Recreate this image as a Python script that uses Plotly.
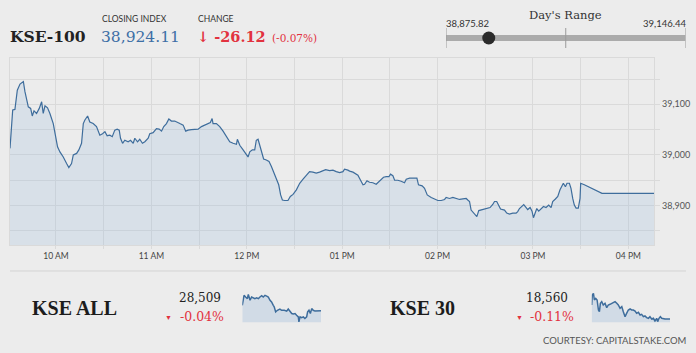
import plotly.graph_objects as go
import pandas as pd

# ---------------- data ----------------
kse100_minutes = [
    1.1, 2.8, 4.2, 5.7, 7.4, 9.5, 10.5, 12.6, 14.1, 15.1,
    16.2, 17.8, 19.5, 21.0, 22.0, 23.1, 24.7, 26.2, 28.3, 29.8,
    31.0, 32.5, 34.6, 36.7, 38.1, 39.8, 40.9, 43.0, 44.4, 46.1,
    47.2, 48.2, 49.9, 51.3, 53.4, 55.5, 57.6, 59.3, 60.8, 62.2,
    63.9, 65.4, 67.0, 68.5, 69.8, 70.6, 71.9, 73.3, 75.4, 76.9,
    78.6, 79.6, 81.3, 82.7, 84.4, 85.9, 88.0, 89.0, 91.1, 93.2,
    94.9, 96.4, 97.8, 99.5, 101.0, 102.6, 104.7, 107.9, 110.0, 111.6,
    113.1, 115.2, 117.3, 119.4, 121.5, 123.6, 125.7, 127.1, 128.2, 128.8,
    130.9, 133.0, 135.1, 137.2, 139.3, 141.4, 143.5, 144.1, 145.6, 147.7,
    149.3, 150.8, 151.9, 153.5, 155.0, 156.0, 157.1, 158.1, 159.2, 160.6,
    162.3, 164.0, 165.5, 166.9, 168.6, 170.1, 171.3, 172.4, 173.8, 175.9,
    177.4, 179.1, 181.2, 183.3, 185.4, 187.4, 189.5, 191.6, 193.7, 195.8,
    197.9, 199.6, 202.1, 204.2, 206.3, 208.4, 210.5, 211.5, 213.6,
    214.7, 216.8, 218.9, 219.9, 221.4, 223.1, 224.1, 225.6, 227.2, 229.3,
    231.4, 233.1, 234.6, 236.0, 237.7, 239.4, 240.4, 241.9, 243.0, 245.0,
    247.1, 249.2, 250.3, 252.4, 254.9, 257.0, 258.0, 260.3, 261.8, 263.5,
    266.0, 268.1, 270.2, 272.3, 274.4, 275.4, 277.5, 279.6, 281.7, 283.8,
    285.9, 288.0, 289.0, 290.1, 291.1, 293.2, 294.7, 295.9, 297.4, 299.5,
    301.6, 303.0, 304.7, 305.8, 307.2, 308.5, 309.6, 312.1, 313.5, 315.2,
    317.3, 319.4, 320.4, 321.5, 323.2, 324.2, 325.2, 326.7, 328.2, 329.4,
    330.3, 331.5, 332.4, 333.6, 335.1, 336.6, 338.2, 339.9, 341.4, 342.4,
    344.1, 345.6, 347.0, 348.3, 349.1, 350.4, 351.4, 352.9, 353.9, 355.0,
    356.0, 357.1, 358.5, 359.6, 360.0, 362.3, 367.6, 373.4, 406.3,
]
kse100_values = [
    39013, 39089, 39090, 39128, 39140, 39145, 39125, 39095, 39092, 39077,
    39087, 39082, 39092, 39105, 39082, 39097, 39093, 39082, 39062, 39039,
    39016, 39006, 38996, 38983, 38975, 38983, 39000, 39003, 39010, 39023,
    39062, 39069, 39077, 39065, 39062, 39056, 39039, 39042, 39046, 39038,
    39039, 39036, 39049, 39051, 39049, 39033, 39023, 39029, 39026, 39029,
    39023, 39033, 39026, 39031, 39023, 39026, 39033, 39042, 39044, 39052,
    39051, 39047, 39056, 39062, 39071, 39067, 39067, 39062, 39059, 39047,
    39049, 39050, 39051, 39051, 39056, 39059, 39062, 39064, 39072, 39062,
    39062, 39056, 39047, 39036, 39026, 39023, 39021, 39031, 39019, 39010,
    39003, 38996, 39006, 39010, 39010, 39029, 39031, 39019, 39003, 38992,
    38990, 38987, 38977, 38967, 38954, 38941, 38921, 38911, 38910, 38910,
    38918, 38922, 38931, 38944, 38952, 38960, 38967, 38966, 38964, 38966,
    38968, 38971, 38969, 38970, 38967, 38965, 38967, 38972, 38970,
    38968, 38966, 38963, 38960, 38951, 38941, 38942, 38949, 38946, 38945,
    38942, 38947, 38952, 38956, 38957, 38957, 38962, 38959, 38950, 38950,
    38948, 38945, 38952, 38954, 38954, 38954, 38941, 38939, 38934, 38921,
    38916, 38913, 38910, 38910, 38912, 38916, 38914, 38916, 38914, 38912,
    38913, 38914, 38911, 38908, 38891, 38883, 38878, 38890, 38891, 38893,
    38894, 38896, 38902, 38908, 38908, 38900, 38893, 38891, 38885, 38883,
    38885, 38885, 38888, 38894, 38900, 38902, 38898, 38892, 38896, 38889,
    38876, 38885, 38894, 38889, 38894, 38898, 38896, 38901, 38896, 38908,
    38913, 38918, 38931, 38941, 38944, 38937, 38944, 38944, 38934, 38914,
    38901, 38895, 38895, 38914, 38944, 38941, 38933, 38924, 38924,
]

kseall_minutes = [0, 9, 17, 26, 31, 40, 48, 57, 65, 74, 83, 91, 100, 108, 117, 126,
                  134, 143, 151, 160, 165, 172, 181, 194, 203, 217, 229, 237, 246,
                  255, 263, 272, 280, 289, 292, 298, 306, 315, 323, 332, 337, 344,
                  351, 358, 366, 375, 406]
kseall_values = [28529, 28553, 28549, 28545, 28555, 28541, 28549, 28547, 28545, 28547,
                 28545, 28549, 28552, 28549, 28553, 28551, 28549, 28541, 28537, 28529,
                 28525, 28513, 28517, 28520, 28517, 28517, 28515, 28520, 28515, 28509,
                 28508, 28509, 28505, 28501, 28489, 28501, 28499, 28501, 28497, 28501,
                 28513, 28517, 28509, 28521, 28517, 28515, 28516]

kse30_minutes = [0, 3, 9, 14, 21, 28, 35, 40, 45, 52, 60, 69, 78, 86, 95, 104, 112,
                 121, 130, 138, 147, 156, 164, 173, 181, 190, 199, 207, 216, 225,
                 233, 242, 251, 259, 268, 276, 285, 294, 302, 311, 320, 328, 337,
                 342, 349, 356, 363, 380, 406]
kse30_values = [18582.5, 18597.5, 18600, 18590, 18592.5, 18590, 18575, 18572.5, 18585,
                18587.5, 18582.5, 18585, 18578.5, 18582.5, 18583.5, 18585, 18586.5,
                18587.5, 18585, 18582.5, 18577.5, 18580, 18572.5, 18565, 18570, 18575,
                18576.5, 18575, 18575, 18573.5, 18570, 18571.5, 18567.5, 18568.5, 18565,
                18566, 18563.5, 18562.5, 18565, 18561.5, 18562.5, 18558.5, 18562.5,
                18557.5, 18562.5, 18565, 18562.5, 18561.5, 18561.5]

closing_index = 38924.11
change_points = -26.12
change_pct = -0.07
day_low = 38875.82
day_high = 39146.44
kseall_last, kseall_pct = 28509, -0.04
kse30_last, kse30_pct = 18560, -0.11

# ---------------- helpers ----------------
W, H = 696, 353
def fx(x): return x / W
def fy(y): return 1 - y / H

base = pd.Timestamp("2019-06-14 09:30")
def to_dt(mins): return [base + pd.Timedelta(minutes=m) for m in mins]

LINE = "#3e6d9c"
FILL = "rgba(160,188,222,0.26)"
GRID = "#dadada"
RED = "#e2323f"
SERIF = "DejaVu Serif"
TSERIF = "Liberation Serif"
SANS = "Lato"

fig = go.Figure()

fig.add_trace(go.Scatter(x=to_dt(kse100_minutes), y=kse100_values, mode="lines",
                         line=dict(color=LINE, width=1.2), fill="tozeroy",
                         fillcolor=FILL, xaxis="x", yaxis="y", hoverinfo="skip"))
fig.add_trace(go.Scatter(x=kseall_minutes, y=kseall_values, mode="lines",
                         line=dict(color=LINE, width=1.5), fill="tozeroy",
                         fillcolor="rgba(160,188,222,0.35)", xaxis="x2", yaxis="y2"))
fig.add_trace(go.Scatter(x=kse30_minutes, y=kse30_values, mode="lines",
                         line=dict(color=LINE, width=1.5), fill="tozeroy",
                         fillcolor="rgba(160,188,222,0.35)", xaxis="x3", yaxis="y3"))
# day's range bar
fig.add_trace(go.Scatter(x=[day_low, day_high], y=[0.5, 0.5], mode="lines",
                         line=dict(color="#ababab", width=6), xaxis="x4", yaxis="y4"))
fig.add_trace(go.Scatter(x=[day_low, (day_low + day_high) / 2, day_high], y=[0.5, 0.5, 0.5],
                         mode="markers", marker=dict(symbol="line-ns", size=15,
                         line=dict(color="#9a9a9a", width=1)), xaxis="x4", yaxis="y4"))
fig.add_trace(go.Scatter(x=[closing_index], y=[0.5], mode="markers",
                         marker=dict(color="#2b2b2b", size=13), xaxis="x4", yaxis="y4"))

tfont = dict(family=SANS, size=8.5, color="#444")
fig.update_layout(
    width=W, height=H, margin=dict(l=0, r=0, t=0, b=0),
    paper_bgcolor="#ececec", plot_bgcolor="#ececec", showlegend=False,
    xaxis=dict(type="date", domain=[fx(10), fx(654.3)],
               range=[base + pd.Timedelta(minutes=1.1), base + pd.Timedelta(minutes=406.3)],
               tick0="2019-06-14 10:00", dtick=3600000, tickformat="%I %p",
               showgrid=True, gridcolor=GRID, gridwidth=1,
               ticks="outside", ticklen=3, tickcolor=GRID, tickfont=tfont,
               minor=dict(dtick=1800000, showgrid=True, gridcolor=GRID,
                          ticks="outside", ticklen=3, tickcolor=GRID),
               showline=True, mirror=True, linecolor=GRID, zeroline=False,
               anchor="y", fixedrange=True),
    yaxis=dict(domain=[fy(245), fy(58.3)], range=[38822, 39191], side="right",
               dtick=100, tick0=0, tickformat=",d", showgrid=True, gridcolor=GRID,
               ticks="outside", ticklen=5, tickcolor=GRID,
               tickfont=dict(family=SANS, size=9, color="#555"),
               minor=dict(dtick=50, showgrid=True, gridcolor=GRID, ticks="outside",
                          ticklen=5, tickcolor=GRID),
               showline=True, mirror=True, linecolor=GRID, zeroline=False,
               anchor="x"),
    xaxis2=dict(domain=[fx(242.3), fx(321)], range=[0, 406], visible=False, anchor="y2"),
    yaxis2=dict(domain=[fy(322.3), fy(292)], range=[28488, 28561], visible=False, anchor="x2"),
    xaxis3=dict(domain=[fx(591.7), fx(670)], range=[0, 406], visible=False, anchor="y3"),
    yaxis3=dict(domain=[fy(322.3), fy(292)], range=[18556.5, 18602], visible=False, anchor="x3"),
    xaxis4=dict(domain=[fx(446), fx(685.5)], range=[day_low, day_high], visible=False, anchor="y4"),
    yaxis4=dict(domain=[fy(48), fy(28)], range=[0, 1], visible=False, anchor="x4"),
)

def ann(text, x, y, size, color="#222", family=SERIF, xanchor="left"):
    fig.add_annotation(text=text, x=fx(x), y=fy(y), xref="paper", yref="paper",
                       xanchor=xanchor, yanchor="middle", showarrow=False,
                       font=dict(family=family, size=size, color=color), borderpad=0)

ann("<b>KSE-100</b>", 9, 37, 15.5, "#222")
ann("CLOSING INDEX", 101, 19, 8.5, "#333", SANS)
ann(f"{closing_index:,.2f}", 100, 37, 15.5, "#3d6fa6")
ann("CHANGE", 197, 19, 8.5, "#333", SANS)
ann(f"<b>↓ {change_points:.2f}</b>", 196, 37, 14.5, RED)
ann(f"({change_pct:.2f}%)", 271, 38, 10.5, RED)

ann("Day's Range", 565.5, 15, 11.5, "#333", SERIF, "center")
ann(f"{day_low:,.2f}", 445, 24, 9.5, "#333", SANS)
ann(f"{day_high:,.2f}", 687, 24, 9.5, "#333", SANS, "right")

ann("<b>KSE ALL</b>", 31, 308, 20, "#1c1c1c", TSERIF)
ann(f"{kseall_last:,}", 222, 298, 12, "#222", SERIF, "right")
ann("▼", 164, 316.5, 7, RED, SANS)
ann(f"{kseall_pct:.2f}%", 179, 316, 12.5, RED)

ann("<b>KSE 30</b>", 389, 308, 20, "#1c1c1c", TSERIF)
ann(f"{kse30_last:,}", 569, 298, 12, "#222", SERIF, "right")
ann("▼", 515, 316.5, 7, RED, SANS)
ann(f"{kse30_pct:.2f}%", 529, 316, 12.5, RED)

ann("COURTESY: CAPITALSTAKE.COM", 687, 340, 9.5, "#555", SANS, "right")

fig.add_shape(type="line", xref="paper", yref="paper", x0=fx(10), x1=fx(686),
              y0=fy(271), y1=fy(271), line=dict(color="#d3d3d3", width=1))

fig.write_html("out.html")
